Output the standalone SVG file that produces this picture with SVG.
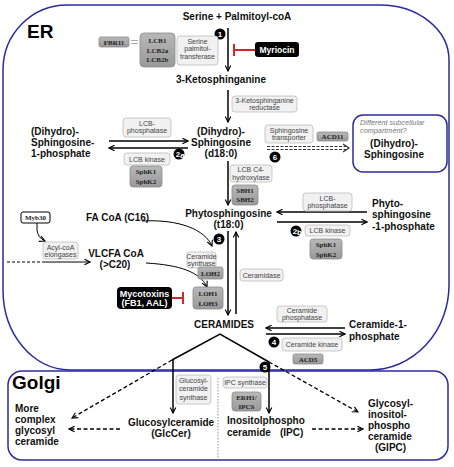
<svg xmlns="http://www.w3.org/2000/svg" width="454" height="467" viewBox="0 0 454 467">
<style>
.t{font-family:"Liberation Sans",Arial,sans-serif;font-weight:bold;font-size:10px;fill:#111}
.tm{text-anchor:middle}
.s{font-family:"Liberation Sans",Arial,sans-serif;font-size:7px;fill:#444;text-anchor:middle}
.e{font-family:"Liberation Serif","Times New Roman",serif;font-weight:bold;font-size:7px;fill:#222;text-anchor:middle}
.lb{fill:#f1f1f1;stroke:#bdbdbd;stroke-width:0.8}
.gb{fill:url(#gg);stroke:#8a8a8a;stroke-width:0.8}
.bk{fill:#000}
.wt{font-family:"Liberation Sans",Arial,sans-serif;font-weight:bold;fill:#fff;text-anchor:middle}
.ln{stroke:#000;stroke-width:1.5;fill:none}
.dl{stroke:#000;stroke-width:1.3;fill:none;stroke-dasharray:4 2.5}
.th{stroke:#000;stroke-width:1;fill:none}
.inh{stroke:#d8232a;stroke-width:2;fill:none}
.bd{fill:#000}
.bn{font-family:"Liberation Sans",Arial,sans-serif;font-weight:bold;font-size:8px;fill:#fff;text-anchor:middle}
.cmp{fill:none;stroke:#2b2ba0;stroke-width:1.5}
.it{font-family:"Liberation Sans",Arial,sans-serif;font-style:italic;font-size:7.3px;fill:#777}
</style>
<defs>
<linearGradient id="gg" x1="0" y1="0" x2="0" y2="1">
<stop offset="0" stop-color="#b8b8b8"/>
<stop offset="1" stop-color="#999"/>
</linearGradient>
<marker id="ah" viewBox="0 0 10 10" refX="9" refY="5" markerWidth="7" markerHeight="7" markerUnits="userSpaceOnUse" orient="auto-start-reverse">
<path d="M1,1 L9,5 L1,9" fill="none" stroke="#000" stroke-width="1.6"/>
</marker>
</defs>

<g id="compartments">
<path class="cmp" d="M3,70 A64,65 0 0 1 67,5 L380,5 A69,55 0 0 1 449,60 L449,285 A79,85 0 0 1 370,370 L70,370 A67,80 0 0 1 3,290 Z"/>
<rect class="cmp" x="8" y="371" width="440" height="89" rx="14"/>
<line x1="218" y1="378" x2="218" y2="458" stroke="#777" stroke-width="0.8" stroke-dasharray="1.5 1.5"/>
<text x="27" y="38" font-family="Liberation Sans,Arial,sans-serif" font-weight="bold" font-size="19" fill="#000">ER</text>
<text x="12" y="389" font-family="Liberation Sans,Arial,sans-serif" font-weight="bold" font-size="19" fill="#000">Golgi</text>
</g>

<g id="connectors">
<line class="ln" x1="228" y1="28" x2="228" y2="71" marker-end="url(#ah)"/>
<line class="ln" x1="228" y1="90" x2="228" y2="122" marker-end="url(#ah)"/>
<line class="ln" x1="109" y1="141" x2="188" y2="141" marker-end="url(#ah)"/>
<line class="ln" x1="188" y1="148" x2="109" y2="148" marker-end="url(#ah)"/>
<line class="ln" x1="228" y1="161" x2="228" y2="205" marker-end="url(#ah)"/>
<line class="ln" x1="367" y1="212" x2="277" y2="212" marker-end="url(#ah)"/>
<line class="ln" x1="277" y1="222" x2="367" y2="222" marker-end="url(#ah)"/>
<line x1="267" y1="146.5" x2="346" y2="146.5" stroke="#333" stroke-width="1" stroke-dasharray="3 1.5"/>
<line x1="267" y1="149.5" x2="346" y2="149.5" stroke="#333" stroke-width="1" stroke-dasharray="3 1.5"/>
<path d="M343,144 L349,148 L343,152" fill="none" stroke="#333" stroke-width="1.2"/>
<line class="ln" x1="228" y1="231" x2="228" y2="315" marker-end="url(#ah)"/>
<line class="ln" x1="236" y1="314" x2="236" y2="232" marker-end="url(#ah)"/>
<path class="th" d="M142,221 C180,219 205,230 212,246" marker-end="url(#ah)"/>
<path class="th" d="M146,263 C180,265 200,272 207,287" marker-end="url(#ah)"/>
<path class="th" d="M37,223 L37,230 Q38,238 45,241" marker-end="url(#ah)"/>
<line x1="7" y1="262" x2="42" y2="262" stroke="#000" stroke-width="1" stroke-dasharray="3 2"/>
<line class="th" x1="42" y1="262" x2="90" y2="262" marker-end="url(#ah)"/>
<line class="ln" x1="345" y1="328" x2="266" y2="328" marker-end="url(#ah)"/>
<line class="ln" x1="266" y1="334" x2="345" y2="334" marker-end="url(#ah)"/>
<polyline class="ln" points="172,360 220,334 269,362"/>
<line class="ln" x1="173" y1="360" x2="173" y2="413" marker-end="url(#ah)"/>
<line class="dl" x1="172" y1="360" x2="72" y2="418" marker-end="url(#ah)"/>
<line class="ln" x1="269" y1="362" x2="269" y2="413" marker-end="url(#ah)"/>
<line class="dl" x1="269" y1="362" x2="358" y2="412" marker-end="url(#ah)"/>
<line class="dl" x1="120" y1="429" x2="69" y2="429" marker-end="url(#ah)"/>
<line class="dl" x1="312" y1="429" x2="363" y2="429" marker-end="url(#ah)"/>
<line class="inh" x1="234" y1="50" x2="255" y2="50"/>
<line class="inh" x1="234" y1="44" x2="234" y2="56"/>
<line class="inh" x1="172" y1="298" x2="183" y2="298"/>
<line class="inh" x1="183" y1="292" x2="183" y2="304"/>
</g>

<g id="serine"><text class="t tm" x="237" y="20">Serine + Palmitoyl-coA</text></g>
<g id="badge1"><circle class="bd" cx="220" cy="34" r="5.5"/><text class="bn" x="220" y="37">1</text></g>
<g id="myriocin"><rect class="bk" x="255" y="42" width="44" height="15" rx="3"/><text class="wt" x="277" y="53" font-size="8.5">Myriocin</text></g>
<g id="spt"><rect class="lb" x="177" y="36" width="41" height="29" rx="3"/><text class="s" x="197.5" y="43.5">Serine</text><text class="s" x="197.5" y="51.3">palmitol-</text><text class="s" x="197.5" y="59.1">transferase</text></g>
<g id="lcb"><rect class="gb" x="140" y="33" width="35" height="34" rx="4"/><text class="e" x="157.5" y="43">LCB1</text><text class="e" x="157.5" y="52.5">LCB2a</text><text class="e" x="157.5" y="62">LCB2b</text></g>
<g id="eq"><line x1="131" y1="40.5" x2="138" y2="40.5" stroke="#aaa" stroke-width="1"/><line x1="131" y1="43.5" x2="138" y2="43.5" stroke="#aaa" stroke-width="1"/></g>
<g id="fbr11"><rect class="gb" x="99" y="37" width="30" height="10" rx="2"/><text class="e" x="114" y="44.5">FBR11</text></g>
<g id="keto"><text class="t tm" x="221" y="83">3-Ketosphinganine</text></g>
<g id="ksr"><rect class="lb" x="232" y="96" width="65" height="16" rx="3"/><text class="s" x="264.5" y="102.5">3-Ketosphinganine</text><text class="s" x="264.5" y="109.5">reductase</text></g>
<g id="sph"><text class="t tm" x="221" y="135">(Dihydro)-</text><text class="t tm" x="221" y="146">Sphingosine</text><text class="t tm" x="221" y="157" font-size="8">(d18:0)</text></g>
<g id="s1p"><text class="t" x="31" y="135">(Dihydro)-</text><text class="t" x="31" y="146">Sphingosine-</text><text class="t" x="31" y="157">1-phosphate</text></g>
<g id="lcbp1"><rect class="lb" x="123" y="118" width="48" height="19" rx="3"/><text class="s" x="147" y="125.5">LCB-</text><text class="s" x="147" y="133">phosphatase</text></g>
<g id="badge2a"><circle class="bd" cx="179" cy="154" r="5.5"/><text class="bn" x="178" y="157">2</text><text class="bn" x="182.5" y="158" font-size="4.5">a</text></g>
<g id="lcbk1"><rect class="lb" x="124" y="153" width="46" height="12" rx="3"/><text class="s" x="147" y="161.5">LCB kinase</text></g>
<g id="sphk1"><rect class="gb" x="130" y="166" width="32" height="21" rx="3"/><text class="e" x="146" y="174">SphK1</text><text class="e" x="146" y="183.5">SphK2</text></g>
<g id="c4h"><rect class="lb" x="230" y="165" width="42" height="17" rx="3"/><text class="s" x="251" y="172">LCB C4-</text><text class="s" x="251" y="179.5">hydroxylase</text></g>
<g id="sbh"><rect class="gb" x="232" y="185" width="26" height="20" rx="3"/><text class="e" x="245" y="193">SBH1</text><text class="e" x="245" y="202">SBH2</text></g>
<g id="phyto"><text class="t tm" x="228.5" y="217">Phytosphingosine</text><text class="t tm" x="228.5" y="228">(t18:0)</text></g>
<g id="phyto1p"><text class="t" x="372" y="207">Phyto-</text><text class="t" x="372" y="218">sphingosine</text><text class="t" x="372" y="230">-1-phosphate</text></g>
<g id="lcbp2"><rect class="lb" x="303" y="193" width="49" height="18" rx="3"/><text class="s" x="327.5" y="200.5">LCB-</text><text class="s" x="327.5" y="208">phosphatase</text></g>
<g id="badge2b"><circle class="bd" cx="296" cy="231" r="5.5"/><text class="bn" x="295" y="234">2</text><text class="bn" x="299.5" y="235" font-size="4.5">b</text></g>
<g id="lcbk2"><rect class="lb" x="305" y="225" width="45" height="11" rx="3"/><text class="s" x="327.5" y="233">LCB kinase</text></g>
<g id="sphk2"><rect class="gb" x="310" y="239" width="32" height="20" rx="3"/><text class="e" x="326" y="247">SphK1</text><text class="e" x="326" y="256.5">SphK2</text></g>
<g id="transporter"><rect class="lb" x="265" y="125" width="48" height="18" rx="3"/><text class="s" x="289" y="132.5">Sphingosine</text><text class="s" x="289" y="140">transporter</text></g>
<g id="acd11"><rect class="gb" x="317" y="132" width="31" height="9" rx="2"/><text class="e" x="332.5" y="139">ACD11</text></g>
<g id="badge6"><circle class="bd" cx="275" cy="157" r="5.5"/><text class="bn" x="275" y="160">6</text></g>
<g id="compartment"><rect class="cmp" x="353" y="115" width="94" height="57" rx="10"/><text class="it" x="360" y="125">Different subcellular</text><text class="it" x="360" y="133">compartment?</text><text class="t tm" x="394" y="147">(Dihydro)-</text><text class="t tm" x="394" y="158">Sphingosine</text></g>
<g id="badge3"><circle class="bd" cx="219" cy="239" r="5.5"/><text class="bn" x="219" y="242">3</text></g>
<g id="facoa"><text class="t" x="86" y="221" font-size="8.3">FA CoA (C16)</text></g>
<g id="vlcfa"><text class="t tm" x="116" y="257" font-size="8.2">VLCFA CoA</text><text class="t tm" x="115" y="268" font-size="8.2">(&gt;C20)</text></g>
<g id="myb30"><rect x="21" y="212" width="29" height="11" rx="2" fill="#fff" stroke="#000" stroke-width="1"/><text class="e" x="35.5" y="220">Myb30</text></g>
<g id="elongases"><rect class="lb" x="43" y="242" width="35" height="17" rx="3"/><text class="s" x="60.5" y="249.5">Acyl-coA</text><text class="s" x="60.5" y="256.5">elongases</text></g>
<g id="cersyn"><rect class="lb" x="187" y="252" width="29" height="16" rx="3"/><text class="s" x="201.5" y="259" font-size="6.3">Ceramide</text><text class="s" x="201.5" y="265.5" font-size="6.3">synthase</text></g>
<g id="loh2"><rect class="gb" x="198" y="267" width="25" height="12" rx="2"/><text class="e" x="210.5" y="275.5">LOH2</text></g>
<g id="loh13"><rect class="gb" x="193" y="287" width="30" height="22" rx="3"/><text class="e" x="208" y="296">LOH1</text><text class="e" x="208" y="305.5">LOH3</text></g>
<g id="mycotoxins"><rect class="bk" x="117" y="287" width="55" height="22" rx="4"/><text class="wt" x="144.5" y="296.5" font-size="9">Mycotoxins</text><text class="wt" x="144.5" y="306" font-size="9">(FB1, AAL)</text></g>
<g id="ceramidase"><rect class="lb" x="240" y="269" width="43" height="12" rx="3"/><text class="s" x="261.5" y="277.5">Ceramidase</text></g>
<g id="ceramides"><text class="t tm" x="224" y="328">CERAMIDES</text></g>
<g id="cerp"><rect class="lb" x="277" y="306" width="50" height="16" rx="3"/><text class="s" x="302" y="313">Ceramide</text><text class="s" x="302" y="320">phosphatase</text></g>
<g id="badge4"><circle class="bd" cx="274" cy="342" r="5.5"/><text class="bn" x="274" y="345">4</text></g>
<g id="cerk"><rect class="lb" x="282" y="338" width="60" height="13" rx="3"/><text class="s" x="312" y="347">Ceramide kinase</text></g>
<g id="acd5"><rect class="gb" x="293" y="354" width="30" height="10" rx="2"/><text class="e" x="308" y="361.5">ACD5</text></g>
<g id="c1p"><text class="t" x="349" y="328">Ceramide-1-</text><text class="t" x="349" y="340">phosphate</text></g>
<g id="badge5"><circle class="bd" cx="265" cy="367" r="5.5"/><text class="bn" x="265" y="370">5</text></g>
<g id="gcs"><rect class="lb" x="176" y="375" width="35" height="29" rx="3"/><text class="s" x="193.5" y="383">Glucosyl-</text><text class="s" x="193.5" y="391">ceramide</text><text class="s" x="193.5" y="399.5">synthase</text></g>
<g id="ipcs"><rect class="lb" x="223" y="377" width="44" height="11" rx="3"/><text class="s" x="245" y="385">IPC synthase</text></g>
<g id="erh1"><rect class="gb" x="232" y="392" width="29" height="19" rx="3"/><text class="e" x="246.5" y="400">ERH1/</text><text class="e" x="246.5" y="408.5">IPCS</text></g>
<g id="glccer"><text class="t tm" x="171" y="426">Glucosylceramide</text><text class="t tm" x="171" y="437">(GlcCer)</text></g>
<g id="complex"><text class="t" x="15" y="412">More</text><text class="t" x="15" y="423">complex</text><text class="t" x="15" y="434">glycosyl</text><text class="t" x="15" y="445">ceramide</text></g>
<g id="ipc"><text class="t" x="227" y="424">Inositolphospho</text><text class="t" x="227" y="436">ceramide <tspan x="280">(IPC)</tspan></text></g>
<g id="gipc"><text class="t" x="368" y="407">Glycosyl-</text><text class="t" x="368" y="418">inositol-</text><text class="t" x="368" y="429">phospho</text><text class="t" x="368" y="440">ceramide</text><text class="t" x="375" y="451">(GIPC)</text></g>
</svg>
